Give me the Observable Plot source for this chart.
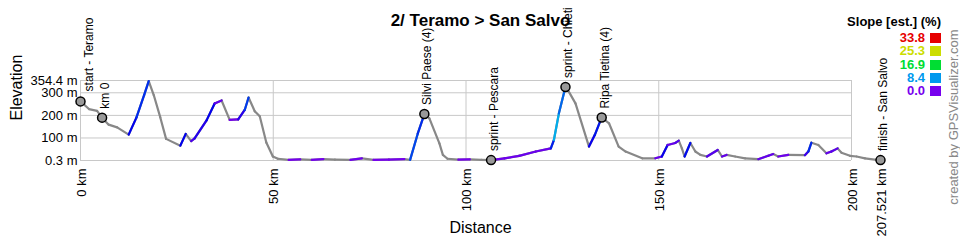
<!DOCTYPE html>
<html>
<head>
<meta charset="utf-8">
<script src="https://cdn.jsdelivr.net/npm/d3@7"></script>
<script src="https://cdn.jsdelivr.net/npm/@observablehq/plot@0.6"></script>
<style>
  body { margin: 0; background: white; font-family: "Liberation Sans", Arial, sans-serif; }
  #wrap { position: relative; width: 960px; height: 240px; overflow: hidden; }
  #legend { position: absolute; top: 14px; right: 19px; text-align: right; font-weight: bold; font-size: 13px; }
  #legend .ttl { color: #000; margin-bottom: 2px; }
  #legend .row { height: 13.3px; line-height: 13.3px; }
  #legend .sw { display: inline-block; width: 11px; height: 10px; margin-left: 5px; vertical-align: -1px; }
  #credit { position: absolute; left: 953px; top: 117px; transform: translate(-50%, -50%) rotate(-90deg); white-space: nowrap; color: #888; font-size: 13px; }
</style>
</head>
<body>
<div id="wrap">
  <div id="chart"></div>
  <div id="legend"></div>
  <div id="credit">created by GPSVisualizer.com</div>
</div>
<script>
// ---- data ----
const title = "2/ Teramo > San Salvo";
const profileKm = [0, 2.2, 4.3, 5.6, 7.3, 9.5, 12.5, 14.5, 16.5, 17.7, 19, 20.7, 22.2, 25.9, 27.3, 28.7, 29.6, 32.7, 34.8, 36.6, 38.7, 40.9, 42.6, 43.6, 45.2, 46.5, 48.2, 49.9, 51.2, 54, 57, 60, 63, 66, 70, 73, 76, 80, 84, 85.5, 87.5, 89.2, 90.5, 93.1, 94, 95.2, 98, 101, 104, 106.5, 110, 113.8, 118.1, 122, 122.8, 124.1, 125.8, 126.7, 128.4, 131.9, 133.4, 135.2, 137.1, 139.6, 141.4, 145.7, 149.1, 150.8, 152.3, 154.3, 155.2, 156, 156.7, 158.2, 159.5, 160.8, 162.5, 165.3, 166.4, 167.6, 169.8, 172.4, 175.8, 178.4, 179.7, 181, 183.6, 187.9, 188.8, 189.6, 191.4, 193.5, 194.8, 196.4, 197.4, 199.6, 201.3, 203.5, 206.5, 207.521];
const profileElev = [262, 228, 220, 190, 159, 147, 115, 190, 290, 352, 290, 191, 96, 66, 118, 86, 98, 178, 253, 266, 180, 182, 224, 279, 218, 196, 80, 18, 8, 3, 5, 3, 6, 4, 3, 10, 3, 4, 6, 3, 120, 206, 187, 76, 25, 8, 4, 5, 3, 2, 10, 21, 40, 54, 91, 209, 326, 304, 253, 62, 113, 191, 165, 62, 40, 10, 10, 18, 69, 78, 88, 54, 18, 78, 40, 25, 18, 47, 18, 25, 18, 10, 6, 21, 29, 18, 25, 24, 40, 79, 69, 32, 40, 54, 35, 21, 18, 10, 3, 2];
const wpNames = ["start - Teramo", "km 0", "Silvi Paese (4)", "sprint - Pescara", "sprint - Chieti", "Ripa Tietina (4)", "finish - San Salvo"];
const wpKm = [0, 5.6, 89.2, 106.5, 125.8, 135.2, 207.521];
const wpElev = [262, 190, 206, 2, 326, 191, 2];
const xTicks = [0, 50, 100, 150, 200, 207.521];
const yTicks = [0.3, 100, 200, 300, 354.4];
const slopeTicks = [0, 8.4, 16.9, 25.3, 33.8];
const slopeColors = ["#7700ee", "#0099ee", "#00dd33", "#ccdd00", "#e60000"];

// ---- derived tables ----
const segs = [];
for (let i = 1; i < profileKm.length; i++) {
  const dk = profileKm[i] - profileKm[i - 1];
  const de = profileElev[i] - profileElev[i - 1];
  segs.push({k1: profileKm[i - 1], e1: profileElev[i - 1], k2: profileKm[i], e2: profileElev[i], slope: de / (dk * 10)});
}
const slopeColor = d3.scaleLinear().domain(slopeTicks).range(slopeColors).interpolate(d3.interpolateHsl).clamp(true);
const wps = wpNames.map((n, i) => ({name: n, km: wpKm[i], elev: wpElev[i]}));
const gridX = xTicks.filter(d => d <= 200);
const fmt = d => d + "";

const font = "Liberation Sans, Arial, sans-serif";
const chart = Plot.plot({
  width: 960, height: 240,
  marginLeft: 80, marginRight: 80, marginTop: 80, marginBottom: 80,
  x: {domain: [0, 207.521], axis: null},
  y: {domain: [0.3, 354.4], axis: null},
  color: {type: "identity"},
  style: {fontFamily: font, fontSize: "13px", background: "white", overflow: "visible"},
  marks: [
    Plot.ruleY(yTicks, {y: d => d, x1: 0, x2: 200, stroke: "#c8c8c8", strokeWidth: 1, strokeOpacity: 1}),
    Plot.ruleX(gridX, {x: d => d, y1: 0.3, y2: 354.4, stroke: "#c8c8c8", strokeWidth: 1, strokeOpacity: 1}),
    Plot.link(segs, {x1: "k1", y1: "e1", x2: "k2", y2: "e2", stroke: "#888", strokeWidth: 2.2, strokeLinecap: "round"}),
    Plot.link(segs.filter(d => d.slope > 0), {x1: "k1", y1: "e1", x2: "k2", y2: "e2", stroke: d => slopeColor(d.slope), strokeWidth: 2.2, strokeLinecap: "round"}),
    Plot.text(yTicks, {y: d => d, frameAnchor: "left", textAnchor: "end", dx: -3, text: d => fmt(d) + " m", fontSize: 13, fill: "#000"}),
    Plot.text(xTicks, {x: d => d, frameAnchor: "bottom", rotate: -90, textAnchor: "end", dy: 8, dx: 5, text: d => fmt(d) + " km", fontSize: 13, fill: "#000"}),
    Plot.dot(wps, {x: "km", y: "elev", r: 4.5, fill: "#999", stroke: "#000", strokeWidth: 1.5}),
    Plot.text(wps.slice(0, 1), {x: "km", y: "elev", text: "name", rotate: -90, textAnchor: "start", dy: -10, dx: 9, fontSize: 12, fill: "#000"}),
    Plot.text(wps.slice(1), {x: "km", y: "elev", text: "name", rotate: -90, textAnchor: "start", dy: -9, dx: 3, fontSize: 12, fill: "#000"}),
    Plot.text(["Elevation"], {frameAnchor: "left", rotate: -90, dx: -64, text: d => d, fontSize: 16, fill: "#000"}),
    Plot.text(["Distance"], {frameAnchor: "bottom", dy: 72, text: d => d, fontSize: 16, fill: "#000"}),
    Plot.text([title], {frameAnchor: "top", dy: -67, text: d => d, fontSize: 17, fontWeight: "bold", fill: "#000"})
  ]
});
document.getElementById("chart").appendChild(chart);

// legend
const lg = document.getElementById("legend");
let html = '<div class="ttl">Slope [est.] (%)</div>';
for (let i = slopeTicks.length - 1; i >= 0; i--) {
  html += `<div class="row" style="color:${slopeColors[i]}">${slopeTicks[i].toFixed(1)}<span class="sw" style="background:${slopeColors[i]}"></span></div>`;
}
lg.innerHTML = html;
</script>
</body>
</html>
